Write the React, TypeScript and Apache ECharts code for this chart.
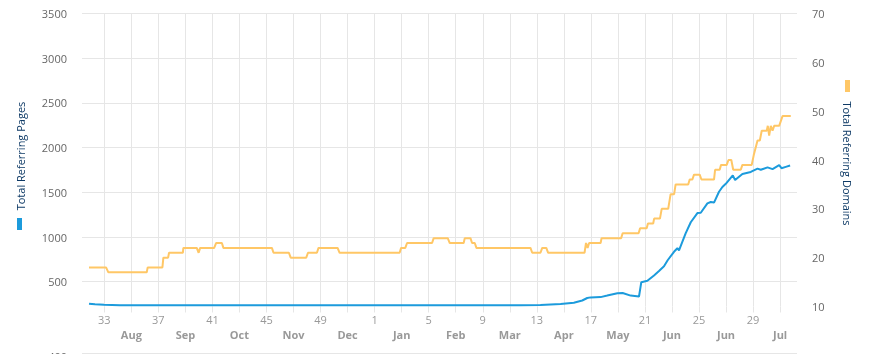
import React, { useEffect, useRef } from 'react';
import * as echarts from 'echarts';

// Tick labels
const weekLabels = ['33', '37', '41', '45', '49', '1', '5', '9', '13', '17', '21', '25', '29'];
const monthLabels = ['Aug', 'Sep', 'Oct', 'Nov', 'Dec', 'Jan', 'Feb', 'Mar', 'Apr', 'May', 'Jun', 'Jun', 'Jul'];
const pagesTicks = [500, 1000, 1500, 2000, 2500, 3000, 3500];

// x values are continuous week numbers (week 53 = week 1 of the next year)
const FIRST_WEEK = 33;
const X_MIN = 31.35;
const X_MAX = 84.25;

// Total Referring Pages (left axis)
const pagesWeek = [31.87, 32.31, 32.98, 34.16, 63.77, 65.27, 66.76, 67.74, 68.36, 68.73, 68.98, 69.72, 70.21, 70.96, 71.35, 71.94, 72.56, 72.73, 73.18, 73.67, 74.04, 74.41, 74.68, 75.15, 75.4, 75.52, 76.01, 76.39, 76.88, 77.13, 77.62, 77.87, 78.11, 78.48, 78.73, 78.98, 79.5, 79.67, 80.21, 80.83, 81.33, 81.57, 82.07, 82.44, 82.93, 83.1, 83.42, 83.74];
const pagesValue = [255, 248, 243, 238, 238, 241, 251, 265, 290, 318, 325, 328, 345, 372, 374, 345, 335, 495, 510, 570, 620, 672, 740, 835, 875, 850, 1041, 1165, 1268, 1271, 1376, 1392, 1385, 1506, 1560, 1595, 1690, 1637, 1705, 1728, 1765, 1752, 1779, 1760, 1804, 1770, 1785, 1800];

// Total Referring Domains (right axis)
const domainsWeek = [31.87, 33.13, 33.3, 36.14, 36.21, 37.3, 37.37, 37.72, 37.79, 38.81, 38.85, 39.84, 39.98, 40.09, 41.13, 41.27, 41.7, 41.81, 45.4, 45.52, 46.66, 46.79, 47.94, 48.07, 48.73, 48.85, 50.26, 50.41, 54.85, 54.96, 55.27, 55.4, 57.25, 57.37, 58.41, 58.56, 59.59, 59.67, 60.09, 60.21, 60.41, 60.53, 64.53, 64.66, 65.27, 65.4, 65.7, 65.84, 68.53, 68.64, 68.76, 68.87, 69.72, 69.79, 71.24, 71.35, 72.53, 72.64, 73.13, 73.22, 73.61, 73.68, 74.11, 74.24, 74.72, 74.9, 75.16, 75.27, 76.2, 76.31, 76.51, 76.63, 77.05, 77.18, 78.11, 78.19, 78.53, 78.63, 79.05, 79.18, 79.39, 79.53, 80.09, 80.21, 80.9, 81.05, 81.33, 81.5, 81.64, 82.01, 82.09, 82.19, 82.31, 82.44, 82.56, 82.93, 83.18, 83.79];
const domainsValue = [18, 18, 17, 17, 18, 18, 20, 20, 21, 21, 22, 22, 21, 22, 22, 23, 23, 22, 22, 21, 21, 20, 20, 21, 21, 22, 22, 21, 21, 22, 22, 23, 23, 24, 24, 23, 23, 24, 24, 23, 23, 22, 22, 21, 21, 22, 22, 21, 21, 23, 22, 23, 23, 24, 24, 25, 25, 26, 26, 27, 27, 28, 28, 30, 30, 33, 33, 35, 35, 36, 36, 37, 37, 36, 36, 38, 38, 39, 39, 40, 40, 38, 38, 39, 39, 41, 44, 44, 46, 46, 47, 45, 47, 46, 47, 47, 49, 49];

const BLUE = '#1c9bdc';
const ORANGE = '#ffc766';
const GRID = '#e6e6e6';
const TITLE = '#0e3a66';
const FONT = '"Open Sans", "Noto Sans", sans-serif';

const weekPos = weekLabels.map((_, i) => FIRST_WEEK + 4 * i);
const monthPos = monthLabels.map((_, i) => FIRST_WEEK + 2 + 4 * i);
const gridPos: number[] = [];
for (let w = FIRST_WEEK; w <= X_MAX; w += 2) gridPos.push(w);

export default function App() {
  const ref = useRef<HTMLDivElement>(null);
  useEffect(() => {
    if (!ref.current) return;
    const chart = echarts.init(ref.current, undefined, { renderer: 'svg' });
    chart.setOption({
      animation: false,
      grid: { left: 82, right: 74, top: 13.5, bottom: 47.5, containLabel: false },
      xAxis: [
        {
          type: 'value', min: X_MIN, max: X_MAX,
          axisLine: { show: false },
          axisTick: { show: true, length: 6, lineStyle: { color: GRID }, customValues: gridPos },
          splitLine: { show: true, lineStyle: { color: GRID, width: 1 } },
          axisLabel: {
            customValues: weekPos, margin: 7, color: '#999999', fontSize: 11, fontFamily: FONT,
            formatter: (v: number) => weekLabels[Math.round((v - FIRST_WEEK) / 4)] ?? '',
          },
        },
        {
          type: 'value', min: X_MIN, max: X_MAX, position: 'bottom', offset: 0,
          axisLine: { show: false }, axisTick: { show: false }, splitLine: { show: false },
          axisLabel: {
            customValues: monthPos, margin: 22, color: '#999999', fontSize: 11, fontWeight: 'bold', fontFamily: FONT,
            formatter: (v: number) => monthLabels[Math.round((v - FIRST_WEEK - 2) / 4)] ?? '',
          },
        },
      ],
      yAxis: [
        {
          type: 'value', min: 223, max: 3500, position: 'left',
          axisLine: { show: false },
          axisTick: { show: false, customValues: pagesTicks },
          splitLine: { show: true, lineStyle: { color: GRID } },
          axisLabel: {
            customValues: pagesTicks, margin: 15, color: '#666666', fontSize: 11, fontFamily: FONT,
            formatter: (v: number) => String(Math.round(v)),
          },
        },
        {
          type: 'value', min: 10, max: 70, interval: 10, position: 'right',
          axisLine: { show: false }, axisTick: { show: false }, splitLine: { show: false },
          axisLabel: { margin: 15, color: '#666666', fontSize: 11, fontFamily: FONT, formatter: (v: number) => String(v) },
        },
      ],
      series: [
        {
          name: 'Total Referring Domains', type: 'line', xAxisIndex: 0, yAxisIndex: 1,
          data: domainsWeek.map((w, i) => [w, domainsValue[i]]),
          showSymbol: false, symbol: 'none', lineStyle: { color: ORANGE, width: 2 }, itemStyle: { color: ORANGE },
        },
        {
          name: 'Total Referring Pages', type: 'line', xAxisIndex: 0, yAxisIndex: 0,
          data: pagesWeek.map((w, i) => [w, pagesValue[i]]),
          showSymbol: false, symbol: 'none', lineStyle: { color: BLUE, width: 2 }, itemStyle: { color: BLUE },
        },
      ],
      graphic: [
        { type: 'rect', left: 17, top: 218, shape: { width: 5, height: 12 }, style: { fill: BLUE } },
        {
          type: 'text', x: 20, y: 156, rotation: Math.PI / 2,
          style: { text: 'Total Referring Pages', fill: TITLE, font: `11px ${FONT}`, align: 'center', verticalAlign: 'middle' },
        },
        { type: 'rect', left: 845, top: 80, shape: { width: 5, height: 12 }, style: { fill: ORANGE } },
        {
          type: 'text', x: 847, y: 163.5, rotation: -Math.PI / 2,
          style: { text: 'Total Referring Domains', fill: TITLE, font: `11px ${FONT}`, align: 'center', verticalAlign: 'middle' },
        },
        { type: 'line', shape: { x1: 82, y1: 353.5, x2: 797, y2: 353.5 }, style: { stroke: GRID, lineWidth: 1 } },
        {
          type: 'text', x: 67, y: 356,
          style: { text: '400', fill: '#666666', font: `11px ${FONT}`, align: 'right', verticalAlign: 'middle' },
        },
      ],
    });
    return () => chart.dispose();
  }, []);
  return <div ref={ref} style={{ position: 'fixed', left: 0, top: 0, width: 871, height: 354 }} />;
}
